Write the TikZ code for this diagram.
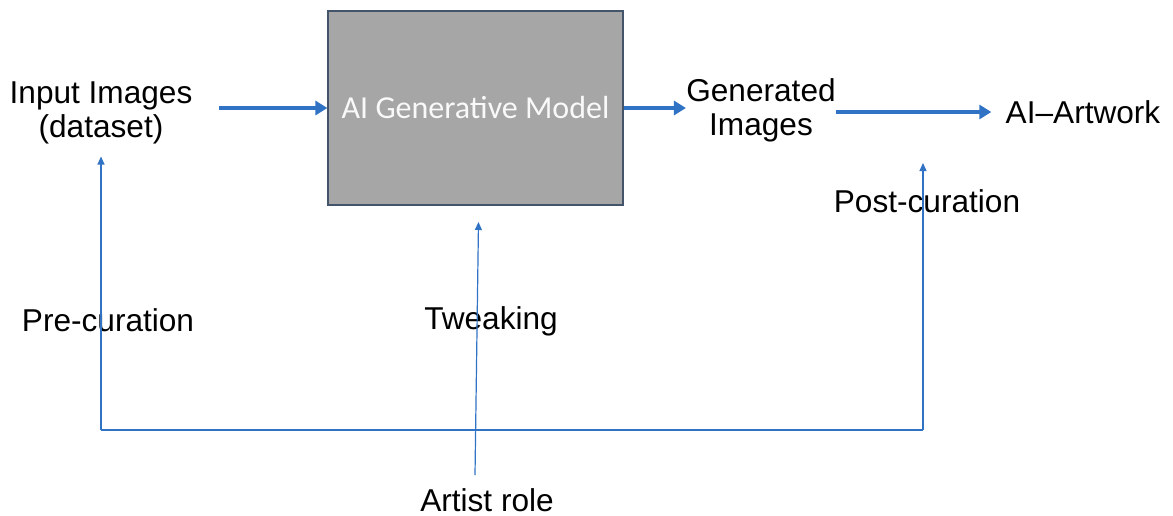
\documentclass[tikz,border=0pt]{standalone}
\usepackage{fontspec}
\setmainfont{Liberation Sans}
\newfontfamily\boxfont{Carlito}
\usetikzlibrary{arrows.meta}

\definecolor{flowblue}{RGB}{48,114,196}
\definecolor{boxgray}{RGB}{166,166,166}
\definecolor{boxedge}{RGB}{68,84,106}

\tikzset{
  label text/.style={font=\fontsize{15.8}{17}\selectfont,align=center,inner sep=0pt},
  model/.style={draw=boxedge,line width=0.6pt,fill=boxgray,minimum width=147.5pt,minimum height=97pt,
    font=\boxfont\fontsize{16}{18}\selectfont,text=white!95!gray},
  main flow/.style={draw=flowblue,line width=2pt,-{Triangle[length=6pt,width=7pt]}},
  role flow/.style={draw=flowblue,line width=0.6pt,-{Triangle[length=4pt,width=3.5pt]}},
  role line/.style={draw=flowblue,line width=0.6pt}
}

\begin{document}
\begin{tikzpicture}[x=0.5pt, y=-0.5pt]
        \useasboundingbox (0,0) rectangle (1173,515);

        % main chain
        \node[label text] (input) at (101,113) {Input Images\\(dataset)};
        \node[model] (model) at (475.5,108) {AI Generative Model};
        \node[label text] (generated) at (761,110) {Generated\\Images};
        \node[label text] (artwork) at (1083,112) {AI--Artwork};

        \draw[main flow,shorten <=13pt] (input.east |- model.west) -- (model.west);
        \draw[main flow] (model.east) -- (generated.west |- model.east);
        \draw[main flow,shorten >=7pt] (generated.east |- artwork.west) -- (artwork.west);

        % artist role
        \node[label text] (artist) at (487,500) {Artist role};
        \node[label text] (pre) at (108,320) {Pre-curation};
        \node[label text] (tweak) at (491,321) {Tweaking};
        \node[label text] (post) at (927,201) {Post-curation};

        \coordinate (cornerL) at (101,430);
        \coordinate (cornerR) at (923,430);
        \coordinate (postTip) at (923,163);
        \coordinate (tweakTip) at (478.5,222);
        \coordinate (tweakFoot) at (475,475);

        \draw[role line] (cornerL) -- (cornerR);
        \draw[role flow,shorten >=6pt] (cornerL) -- (input.south);
        \draw[role flow] (cornerR) -- (postTip);
        \draw[role flow] (tweakFoot) -- (tweakTip);
    \end{tikzpicture}
\end{document}
